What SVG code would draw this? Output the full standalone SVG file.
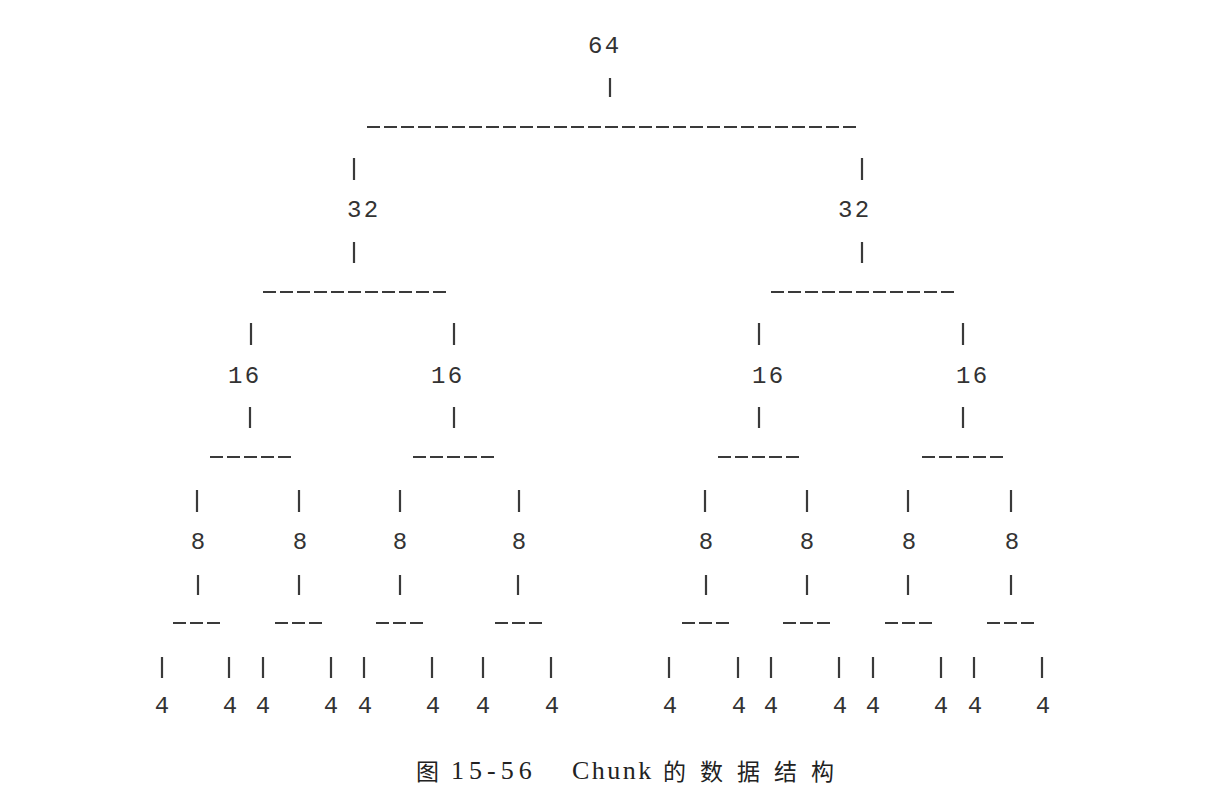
<svg xmlns="http://www.w3.org/2000/svg" width="1210" height="810" viewBox="0 0 1210 810">
<style>
.num{font-family:"Liberation Mono","DejaVu Sans Mono",monospace;font-size:24px;fill:#333}
.two{letter-spacing:2.4px}
.one{text-anchor:middle}
.pipe{stroke:#3a3a3a;stroke-width:2.2;fill:none}
.dash{stroke:#3a3a3a;stroke-width:2.2;stroke-dasharray:13 4;fill:none}
.cap{font-family:"Liberation Serif","Noto Sans CJK SC",serif;font-size:26px;fill:#222}
.capcjk{font-family:"Noto Sans CJK SC",sans-serif;font-size:23px;fill:#222}
</style>
<rect width="1210" height="810" fill="#fff"/>
<g id="connectors">
<path class="pipe" d="M610 78V97 M354 158V180 M862 158V180 M354 242V263 M862 242V263
M251 323V345 M454 323V345 M759 323V345 M963 323V345
M250 407V428 M454 407V428 M759 407V428 M963 407V428
M197 490V512 M299 490V512 M400 490V512 M519 490V512 M705 490V512 M807 490V512 M908 490V512 M1011 490V512
M198 575V595 M299 575V595 M400 575V595 M518 575V595 M706 575V595 M807 575V595 M908 575V595 M1011 575V595
M162 657V678 M229 657V678 M263 657V678 M331 657V678 M364 657V678 M432 657V678 M483 657V678 M551 657V678
M669 657V678 M738 657V678 M771 657V678 M839 657V678 M873 657V678 M941 657V678 M974 657V678 M1042 657V678"/>
<path class="dash" d="M367 127H856"/>
<path class="dash" d="M263 292H446 M771 292H954"/>
<path class="dash" d="M210 457H291 M413 457H494 M718 457H799 M922 457H1003"/>
<path class="dash" d="M173 623H220 M275 623H322 M376 623H423 M495 623H542 M682 623H729 M783 623H830 M885 623H932 M987 623H1034"/>
</g>
<g id="n64"><text class="num two" x="588" y="53">64</text></g>
<g id="n32a"><text class="num two" x="347" y="217">32</text></g>
<g id="n32b"><text class="num two" x="838" y="217">32</text></g>
<g id="n16a"><text class="num two" x="228" y="383">16</text></g>
<g id="n16b"><text class="num two" x="431" y="383">16</text></g>
<g id="n16c"><text class="num two" x="752" y="383">16</text></g>
<g id="n16d"><text class="num two" x="956" y="383">16</text></g>
<g id="n8a"><text class="num one" x="198" y="549">8</text></g>
<g id="n8b"><text class="num one" x="300" y="549">8</text></g>
<g id="n8c"><text class="num one" x="400" y="549">8</text></g>
<g id="n8d"><text class="num one" x="519" y="549">8</text></g>
<g id="n8e"><text class="num one" x="706" y="549">8</text></g>
<g id="n8f"><text class="num one" x="807" y="549">8</text></g>
<g id="n8g"><text class="num one" x="909" y="549">8</text></g>
<g id="n8h"><text class="num one" x="1012" y="549">8</text></g>
<g id="n4a"><text class="num one" x="162" y="713">4</text></g>
<g id="n4b"><text class="num one" x="230" y="713">4</text></g>
<g id="n4c"><text class="num one" x="263" y="713">4</text></g>
<g id="n4d"><text class="num one" x="331" y="713">4</text></g>
<g id="n4e"><text class="num one" x="365" y="713">4</text></g>
<g id="n4f"><text class="num one" x="433" y="713">4</text></g>
<g id="n4g"><text class="num one" x="483" y="713">4</text></g>
<g id="n4h"><text class="num one" x="552" y="713">4</text></g>
<g id="n4i"><text class="num one" x="670" y="713">4</text></g>
<g id="n4j"><text class="num one" x="739" y="713">4</text></g>
<g id="n4k"><text class="num one" x="771" y="713">4</text></g>
<g id="n4l"><text class="num one" x="840" y="713">4</text></g>
<g id="n4m"><text class="num one" x="873" y="713">4</text></g>
<g id="n4n"><text class="num one" x="941" y="713">4</text></g>
<g id="n4o"><text class="num one" x="975" y="713">4</text></g>
<g id="n4p"><text class="num one" x="1043" y="713">4</text></g>
<g id="caption">
<text class="capcjk" x="416" y="780">图</text>
<text class="cap" x="451" y="779" letter-spacing="5">15-56</text>
<text class="cap" x="572" y="779" letter-spacing="2.5">Chunk</text>
<text class="capcjk" x="663" y="780" letter-spacing="14">的数据结构</text>
</g>
</svg>
